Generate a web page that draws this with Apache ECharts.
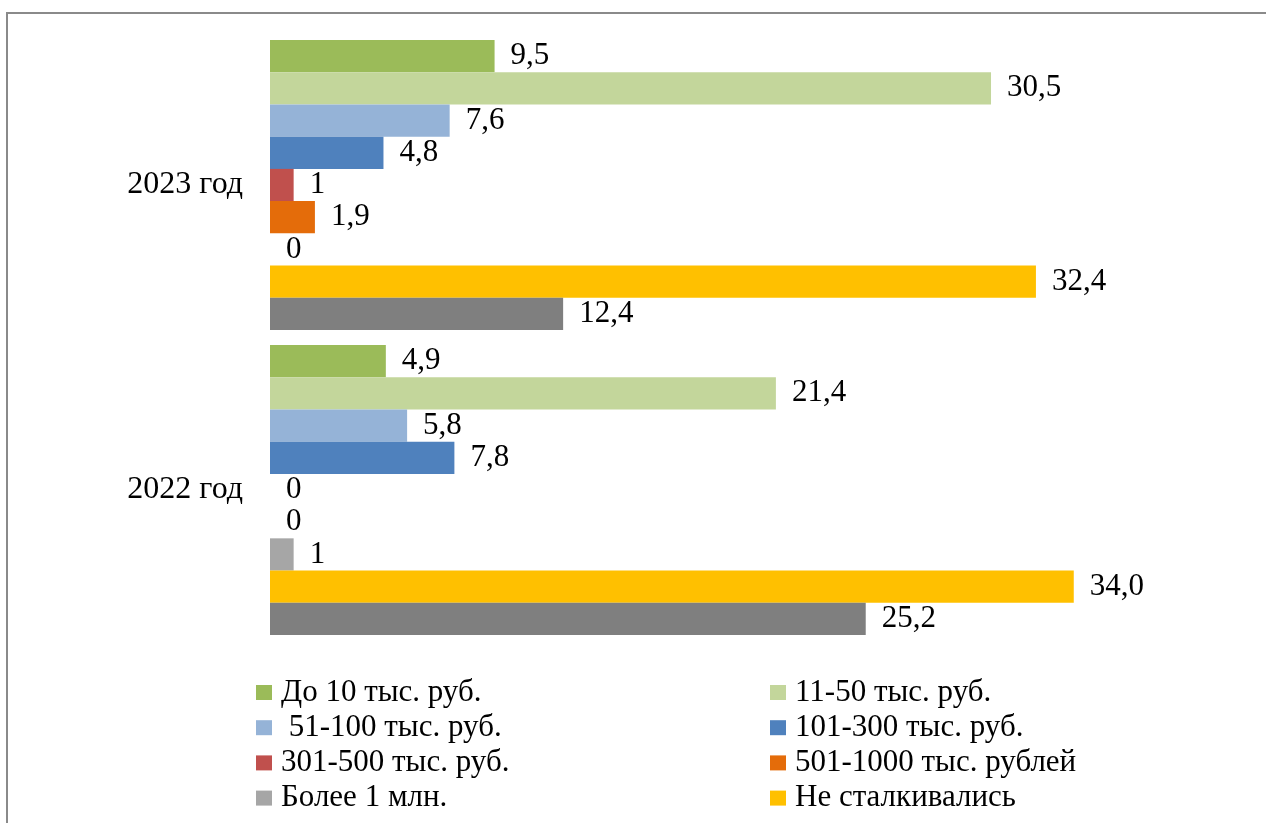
<!DOCTYPE html>
<html>
<head>
<meta charset="utf-8">
<script src="https://cdn.jsdelivr.net/npm/echarts@6/dist/echarts.min.js"></script>
<style>
html,body{margin:0;padding:0;background:#fff;}
#chart{width:1266px;height:823px;}
</style>
</head>
<body>
<div id="chart"></div>
<script>
var categories = ['2023 год', '2022 год'];
var seriesNames = ['До 10 тыс. руб.', '11-50 тыс. руб.', ' 51-100 тыс. руб.', '101-300 тыс. руб.', '301-500 тыс. руб.', '501-1000 тыс. рублей', 'Более 1 млн.', 'Не сталкивались', 'Затрудняюсь ответить'];
var seriesColors = ['#9BBB59', '#C3D69B', '#95B3D7', '#4F81BD', '#C0504D', '#E46C0A', '#A6A6A6', '#FFC000', '#7F7F7F'];
// values per series: [2023, 2022]
var valUpTo10 = [9.5, 4.9];
var val11to50 = [30.5, 21.4];
var val51to100 = [7.6, 5.8];
var val101to300 = [4.8, 7.8];
var val301to500 = [1, 0];
var val501to1000 = [1.9, 0];
var valOver1m = [0, 1];
var valNever = [32.4, 34.0];
var valOther = [12.4, 25.2];
var seriesValues = [valUpTo10, val11to50, val51to100, val101to300, val301to500, val501to1000, valOver1m, valNever, valOther];
var legendLeft = ['До 10 тыс. руб.', ' 51-100 тыс. руб.', '301-500 тыс. руб.', 'Более 1 млн.'];
var legendRight = ['11-50 тыс. руб.', '101-300 тыс. руб.', '501-1000 тыс. рублей', 'Не сталкивались'];

var FONT = '"Liberation Serif", "Times New Roman", serif';

function fmt(v) {
  if (Number.isInteger(v) && v <= 1) return String(v);
  return v.toFixed(1).replace('.', ',');
}

var series = seriesNames.map(function (n, i) {
  return {
    name: n,
    type: 'bar',
    data: seriesValues[i],
    barGap: '0%',
    barCategoryGap: '4.9%',
    itemStyle: { color: seriesColors[i] },
    label: {
      show: true,
      position: 'right',
      distance: 16,
      color: '#000',
      fontFamily: FONT,
      fontSize: 31,
      formatter: function (p) { return fmt(p.value); }
    },
    emphasis: { disabled: true },
    animation: false
  };
});

var legendCommon = {
  orient: 'vertical',
  icon: 'rect',
  itemWidth: 16,
  itemHeight: 15,
  itemGap: 4.2,
  top: 672,
  selectedMode: false,
  textStyle: { fontFamily: FONT, fontSize: 31, lineHeight: 28, color: '#000', padding: [0, 0, 0, 4] }
};

var chart = echarts.init(document.getElementById('chart'), null, { renderer: 'canvas' });
chart.setOption({
  backgroundColor: '#fff',
  animation: false,
  grid: { left: 270, right: 50.4, top: 32.5, bottom: 180.5, containLabel: false },
  xAxis: {
    type: 'value', min: 0, max: 40,
    show: false
  },
  yAxis: {
    type: 'category',
    data: categories,
    inverse: true,
    axisLine: { show: false },
    axisTick: { show: false },
    axisLabel: { fontFamily: FONT, fontSize: 32, color: '#000', margin: 27 }
  },
  legend: [
    Object.assign({}, legendCommon, { left: 251, data: legendLeft }),
    Object.assign({}, legendCommon, { left: 765, data: legendRight })
  ],
  graphic: [{
    type: 'rect',
    shape: { x: 7, y: 13, width: 1400, height: 1000 },
    style: { fill: 'none', stroke: '#8a8a8a', lineWidth: 2 },
    silent: true
  }],
  series: series
});
</script>
</body>
</html>
